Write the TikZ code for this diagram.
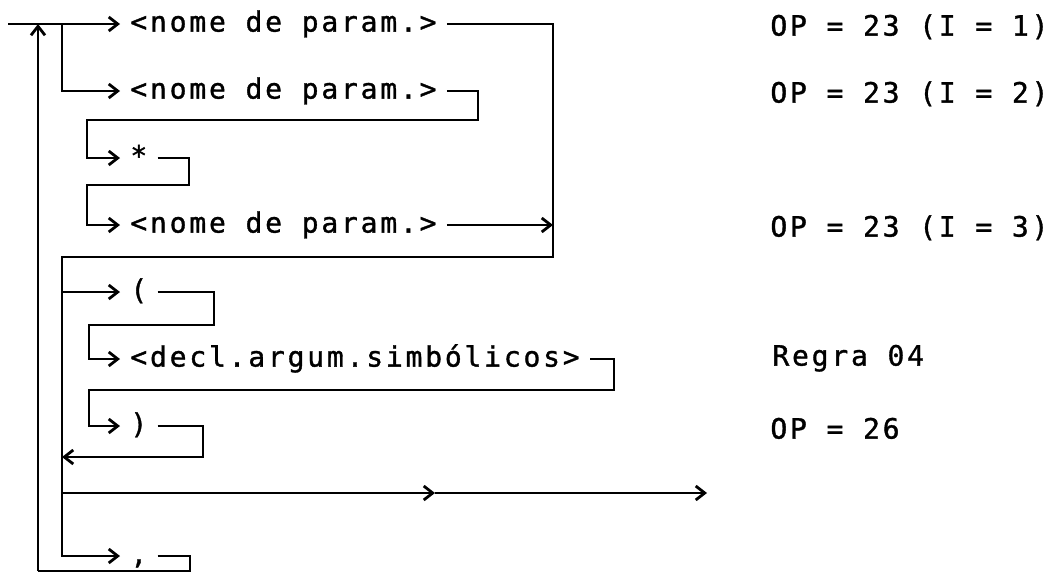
\documentclass[tikz,border=0pt]{standalone}
\usepackage{fontspec}
\newfontfamily\maq[LetterSpace=10,FakeBold=1.2]{DejaVu Sans Mono}
\usetikzlibrary{arrows.meta,positioning}

\tikzset{
        rot/.style={font=\maq\fontsize{14pt}{16pt}\selectfont, anchor=west,
                inner xsep=5pt, inner ysep=0pt, text height=7.6pt, text depth=0pt},
        fio/.style={line width=1.4pt},
}

\begin{document}
\begin{tikzpicture}[x=0.5pt, y=-0.5pt, >={Straight Barb[length=4.5pt,width=7pt]}]
        \useasboundingbox (0,0) rectangle (1064,573);

        % coluna dos simbolos
        \node[rot] (p1) at (120,24) {<nome de param.>};
        \node[rot, below=33.5pt of p1.west, anchor=west] (p2) {<nome de param.>};
        \node[rot, below=33.5pt of p2.west, anchor=west] (st) {*};
        \node[rot, below=33.5pt of st.west, anchor=west] (p3) {<nome de param.>};
        \node[rot, below=33.5pt of p3.west, anchor=west] (ab) {(};
        \node[rot, below=33.5pt of ab.west, anchor=west] (dc) {<decl.argum.simbólicos>};
        \node[rot, below=33.5pt of dc.west, anchor=west] (fc) {)};
        \node[rot, below=65pt of fc.west, anchor=west] (vg) {,};

        % codigos
        \node[rot] (op1) at (760,28) {OP = 23 (I = 1)};
        \node[rot] (op2) at (760,95) {OP = 23 (I = 2)};
        \node[rot] (op3) at (760,229) {OP = 23 (I = 3)};
        \node[rot] (rg) at (762,358) {Regra 04};
        \node[rot] (op4) at (760,431) {OP = 26};

        \coordinate (in) at (8,24);
        \coordinate (j1) at (62,24);
        \coordinate (tp) at (38,24);
        \coordinate (bt) at (38,571);
        \coordinate (e1) at (553,257);
        \coordinate (s1) at (62,257);
        \coordinate (k2) at (478,120);  \coordinate (l2) at (87,120);
        \coordinate (k3) at (189,185);  \coordinate (l3) at (87,185);
        \coordinate (k5) at (214,325);  \coordinate (l5) at (89,325);
        \coordinate (k6) at (614,390);  \coordinate (l6) at (89,390);
        \coordinate (k7) at (203,457);
        \coordinate (m) at (435,493);
        \coordinate (out) at (707,493);
        \coordinate (k8) at (190,571);

        \begin{scope}[fio]
        \draw[->] (in) -- (p1.west);
        \draw[->] (j1) |- (p2.west);
        \draw (p1.east) -| (e1) -- (s1) |- (vg.west) [->];
        \draw[->] (p2.east) -| (k2) -- (l2) |- (st.west);
        \draw[->] (st.east) -| (k3) -- (l3) |- (p3.west);
        \draw[->] (p3.east) -- (p3.east -| e1);
        \draw[->] (ab.west -| s1) -- (ab.west);
        \draw[->] (ab.east) -| (k5) -- (l5) |- (dc.west);
        \draw[->] (dc.east) -| (k6) -- (l6) |- (fc.west);
        \draw[->] (fc.east) -| (k7) -- (k7 -| s1);
        \draw[->] (m -| s1) -- (m);
        \draw[->] (m) -- (out);
        \draw (vg.east) -| (k8) -- (bt);
        \draw[->] (bt) -- (tp);
        \end{scope}
\end{tikzpicture}
\end{document}
